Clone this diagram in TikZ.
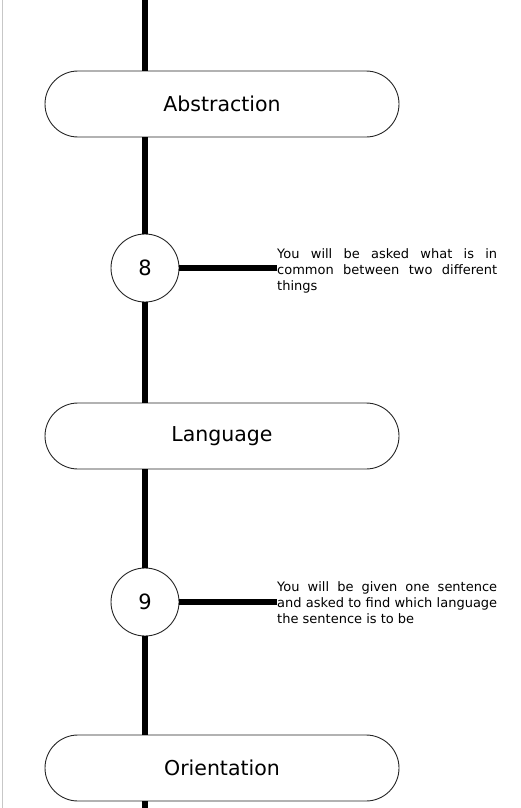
\documentclass[tikz,border=0pt]{standalone}
\usepackage{fontspec}
\setmainfont{DejaVu Sans}
\usetikzlibrary{positioning}
\tolerance=10000
\hbadness=10000

\begin{document}
\begin{tikzpicture}
    [
        x=1pt, y=1pt, node distance=332pt, on grid,
        step_box/.style={rectangle, rounded corners=33pt, draw=black!85, fill=white, line width=0.9pt, minimum width=354pt, minimum height=66pt, font=\fontsize{20.5}{24}\selectfont},
        num_node/.style={circle, draw=black!85, fill=white, line width=0.9pt, minimum size=68pt, inner sep=0pt, font=\fontsize{21}{24}\selectfont},
        note_text/.style={anchor=west, inner sep=0pt, text width=220pt, align=justify, font=\fontsize{13}{16}\selectfont},
        spine/.style={line width=5.5pt, color=black},
        link/.style={line width=6pt, color=black},
    ]
        \useasboundingbox (0,0) rectangle (520,-808);
        \draw[line width=1.5pt, color=black!22] (2.5,0) -- (2.5,-808);
        \coordinate (top) at (145,0);
        \coordinate (bottom) at (145,-808);
        \node[step_box] (abstraction) at (222,-104) {Abstraction};
        \node[step_box] (language) [below = of abstraction] {Language};
        \node[step_box] (orientation) [below = of language] {Orientation};
        \node[num_node] (n8) at (145,-268) {8};
        \node[num_node] (n9) at (145,-602) {9};
        \node[note_text] (t8) at (277,-271) {You will be asked what is in\linebreak common between two different\linebreak things};
        \node[note_text] (t9) at (277,-603) {You will be given one sentence\linebreak and asked to find which language\linebreak the sentence is to be};
        \draw[spine] (top) -- (top |- abstraction.north);
        \draw[spine] (top |- abstraction.south) -- (n8);
        \draw[spine] (n8) -- (n8 |- language.north);
        \draw[spine] (n8 |- language.south) -- (n9);
        \draw[spine] (n9) -- (n9 |- orientation.north);
        \draw[spine] (n9 |- orientation.south) -- (bottom);
        \draw[link] (n8) -- (n8 -| t8.west);
        \draw[link] (n9) -- (n9 -| t9.west);
    \end{tikzpicture}
\end{document}
